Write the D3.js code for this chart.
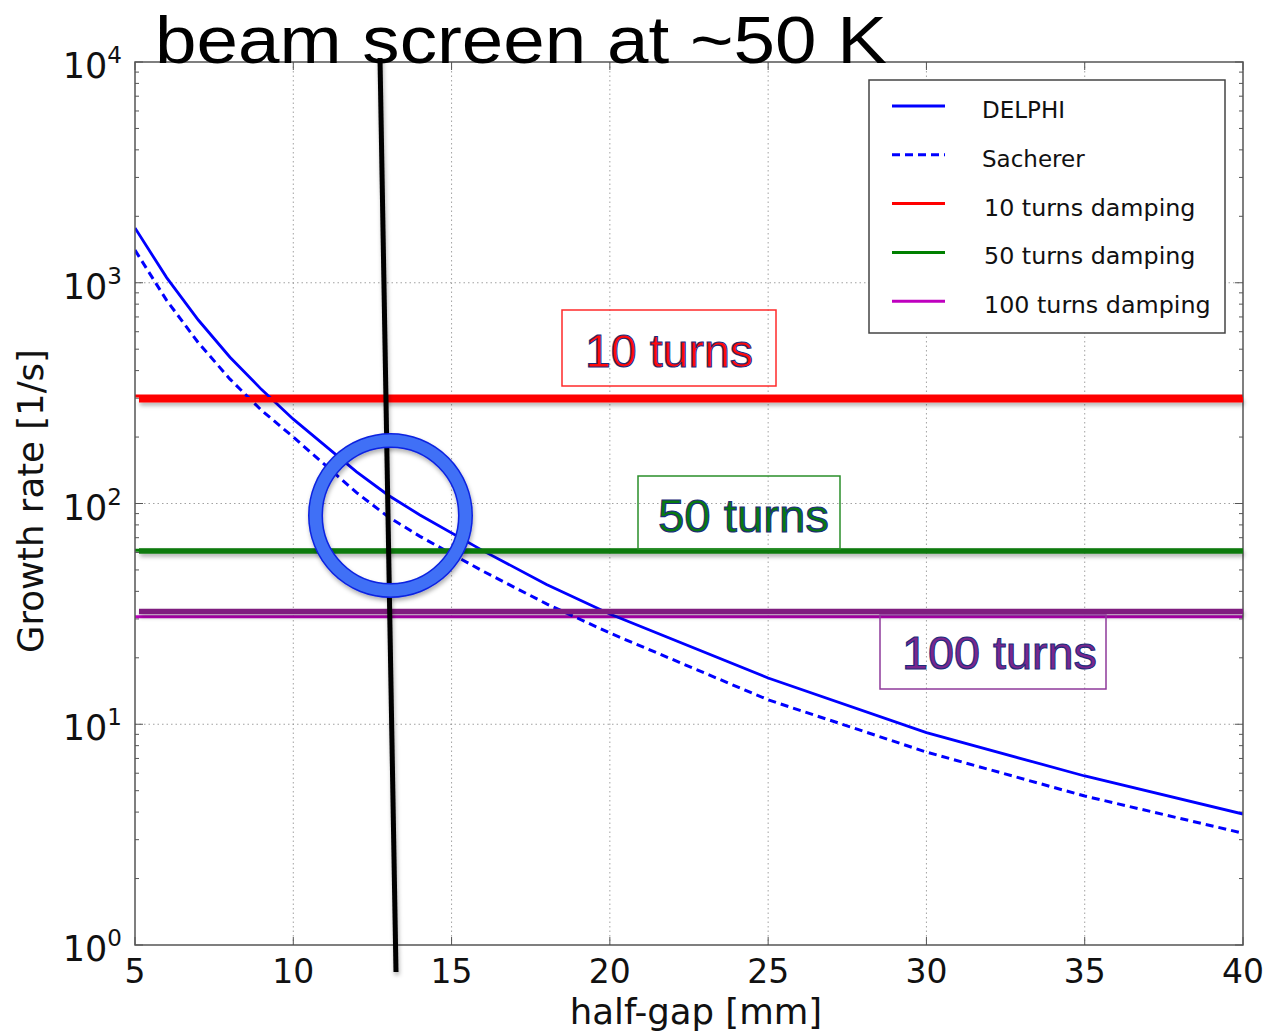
<!DOCTYPE html>
<html>
<head>
<meta charset="utf-8">
<script src="https://cdn.jsdelivr.net/npm/d3@7"></script>
<style>
  html, body { margin: 0; padding: 0; background: #fff; }
  svg { display: block; }
</style>
</head>
<body>
<svg id="chart" width="1264" height="1034"></svg>
<script>
// Half-gap of the beam screen [mm]
const halfGap = [5, 6, 7, 8, 9, 10, 12, 13, 14, 16, 18, 20, 25, 30, 35, 40];
// Transverse growth rates [1/s]
const delphiRate   = [1770, 1055, 678, 460, 328, 241, 139, 109, 88.7, 61, 43, 31.6, 16.2, 9.16, 5.83, 3.92];
const sachererRate = [1406, 832, 535, 366, 264, 200, 112, 87, 71, 49.3, 35.1, 25.9, 12.9, 7.48, 4.73, 3.21];

// Damping rates for n turns of the feedback [1/s]
const dampingTurns = [10, 50, 100];
const dampingRate  = [307, 61.4, 30.7];
// Highlight bars drawn over the damping levels
const highlightRate = [295, 61, 32.4];

const xTicks = [5, 10, 15, 20, 25, 30, 35, 40];
const yDecades = [0, 1, 2, 3, 4];

const legendLabels = ["DELPHI", "Sacherer", "10 turns damping", "50 turns damping", "100 turns damping"];

const svg = d3.select("#chart");
const M = { left: 135, right: 1243, top: 62, bottom: 945 };

const x = d3.scaleLinear().domain([5, 40]).range([M.left, M.right]);
const y = d3.scaleLog().domain([1, 1e4]).range([M.bottom, M.top]);

// Drop shadow used by the slide annotations
const defs = svg.append("defs");
const shadow = defs.append("filter").attr("id", "shadow")
  .attr("filterUnits", "userSpaceOnUse")
  .attr("x", 0).attr("y", 0).attr("width", 1264).attr("height", 1034);
shadow.append("feDropShadow").attr("dx", 1).attr("dy", 3).attr("stdDeviation", 2)
  .attr("flood-color", "#000").attr("flood-opacity", 0.3);

defs.append("clipPath").attr("id", "plotClip").append("rect")
  .attr("x", M.left).attr("y", M.top).attr("width", M.right - M.left).attr("height", M.bottom - M.top);

// Grid
const grid = svg.append("g");
grid.selectAll(".gx").data(xTicks.slice(1, -1)).join("line")
  .attr("x1", d => x(d)).attr("x2", d => x(d))
  .attr("y1", M.top).attr("y2", M.bottom)
  .attr("stroke", "#8a8a8a").attr("stroke-width", 0.8).attr("stroke-dasharray", "1.5,3");
grid.selectAll(".gy").data(yDecades.slice(1, -1)).join("line")
  .attr("y1", d => y(Math.pow(10, d))).attr("y2", d => y(Math.pow(10, d)))
  .attr("x1", M.left).attr("x2", M.right)
  .attr("stroke", "#8a8a8a").attr("stroke-width", 0.8).attr("stroke-dasharray", "1.5,3");

// Ticks (inside, on all four spines)
const ticks = svg.append("g").attr("stroke", "#555").attr("stroke-width", 1);
const minor = [];
for (let e = 0; e < 4; e++) for (let m = 2; m <= 9; m++) minor.push(m * Math.pow(10, e));
ticks.selectAll(".ymin").data(minor).join("g").each(function (v) {
  const g = d3.select(this), yy = y(v);
  g.append("line").attr("x1", M.left).attr("x2", M.left + 4).attr("y1", yy).attr("y2", yy);
  g.append("line").attr("x1", M.right).attr("x2", M.right - 4).attr("y1", yy).attr("y2", yy);
});
ticks.selectAll(".ymaj").data(yDecades).join("g").each(function (d) {
  const g = d3.select(this), yy = y(Math.pow(10, d));
  g.append("line").attr("x1", M.left).attr("x2", M.left + 8).attr("y1", yy).attr("y2", yy);
  g.append("line").attr("x1", M.right).attr("x2", M.right - 8).attr("y1", yy).attr("y2", yy);
});
ticks.selectAll(".xmaj").data(xTicks).join("g").each(function (d) {
  const g = d3.select(this), xx = x(d);
  g.append("line").attr("x1", xx).attr("x2", xx).attr("y1", M.bottom).attr("y2", M.bottom - 8);
  g.append("line").attr("x1", xx).attr("x2", xx).attr("y1", M.top).attr("y2", M.top + 8);
});

// Tick labels
const tickFont = "'DejaVu Sans', sans-serif";
svg.append("g").selectAll("text").data(xTicks).join("text")
  .attr("x", d => x(d)).attr("y", M.bottom + 38)
  .attr("text-anchor", "middle").attr("font-family", tickFont).attr("font-size", 33)
  .attr("fill", "#111").text(d => d);

const yl = svg.append("g").selectAll("text").data(yDecades).join("text")
  .attr("x", 122).attr("y", d => y(Math.pow(10, d)) + 16)
  .attr("text-anchor", "end").attr("font-family", tickFont).attr("fill", "#111");
yl.append("tspan").attr("font-size", 35).text("10");
yl.append("tspan").attr("font-size", 23).attr("dy", -15).text(d => d);

// Axis labels
svg.append("text").attr("x", 696).attr("y", 1024).attr("text-anchor", "middle")
  .attr("font-family", tickFont).attr("font-size", 35.5).attr("fill", "#111").text("half-gap [mm]");
svg.append("text").attr("transform", "translate(43,501) rotate(-90)").attr("text-anchor", "middle")
  .attr("font-family", tickFont).attr("font-size", 35.5).attr("fill", "#111").text("Growth rate [1/s]");

// Plot content
const plot = svg.append("g").attr("clip-path", "url(#plotClip)");
const dampColors = ["#ff0000", "#008000", "#bf00bf"];
plot.selectAll(".damp").data(dampingRate).join("line")
  .attr("x1", M.left).attr("x2", M.right)
  .attr("y1", d => y(d)).attr("y2", d => y(d))
  .attr("stroke", (d, i) => dampColors[i]).attr("stroke-width", 3);

const line = d3.line().x(d => x(d[0])).y(d => y(d[1]));
plot.append("path").datum(halfGap.map((g, i) => [g, delphiRate[i]]))
  .attr("d", line).attr("fill", "none").attr("stroke", "#0000ff").attr("stroke-width", 2.8);
plot.append("path").datum(halfGap.map((g, i) => [g, sachererRate[i]]))
  .attr("d", line).attr("fill", "none").attr("stroke", "#0000ff").attr("stroke-width", 3)
  .attr("stroke-dasharray", "8,5");

// Spines
svg.append("rect").attr("x", M.left).attr("y", M.top)
  .attr("width", M.right - M.left).attr("height", M.bottom - M.top)
  .attr("fill", "none").attr("stroke", "#555").attr("stroke-width", 1.5);

// Legend
const leg = svg.append("g");
leg.append("rect").attr("x", 869).attr("y", 80).attr("width", 356).attr("height", 253)
  .attr("fill", "#fff").attr("stroke", "#444").attr("stroke-width", 1.5);
const legColors = ["#0000ff", "#0000ff", "#ff0000", "#008000", "#bf00bf"];
legendLabels.forEach((lab, i) => {
  const yy = 106 + i * 48.8;
  leg.append("line").attr("x1", 892).attr("x2", 945).attr("y1", yy).attr("y2", yy)
    .attr("stroke", legColors[i]).attr("stroke-width", 3)
    .attr("stroke-dasharray", i === 1 ? "8,5" : null);
  leg.append("text").attr("x", i < 2 ? 982 : 984).attr("y", yy + 12)
    .attr("font-family", tickFont).attr("font-size", i < 2 ? 23 : 23.8).attr("fill", "#111").text(lab);
});

// Highlight bars over the damping levels
const hlColors = ["#ff0000", "#0a7a0a", "#7f1f7f"];
svg.append("g").selectAll("line").data(highlightRate).join("line")
  .attr("x1", M.left + 4).attr("x2", M.right)
  .attr("y1", d => y(d)).attr("y2", d => y(d))
  .attr("stroke", (d, i) => hlColors[i]).attr("stroke-width", 5.5)
  .attr("filter", "url(#shadow)");

// Labelled boxes
const boxes = [
  { text: "10 turns",  x: 562, y: 310, w: 214, h: 76, tx: 585, ty: 367, tw: 168, fill: "#ff0a0a", edge: "#ff2a2a" },
  { text: "50 turns",  x: 638, y: 476, w: 202, h: 73, tx: 658, ty: 532, tw: 171, fill: "#087a10", edge: "#2a8f2a" },
  { text: "100 turns", x: 880, y: 615, w: 226, h: 74, tx: 902, ty: 669, tw: 195, fill: "#7a268e", edge: "#8e3a9a" }
];
const bx = svg.append("g");
boxes.forEach(b => {
  bx.append("rect").attr("x", b.x).attr("y", b.y).attr("width", b.w).attr("height", b.h)
    .attr("fill", "none").attr("stroke", b.edge).attr("stroke-width", 1.5);
  bx.append("text").attr("x", b.tx).attr("y", b.ty)
    .attr("textLength", b.tw).attr("lengthAdjust", "spacingAndGlyphs")
    .attr("font-family", "'Liberation Sans', Arial, sans-serif").attr("font-size", 47)
    .attr("fill", b.fill).attr("stroke", "#1c2c7a").attr("stroke-width", 1.1)
    .text(b.text);
});

// Title
svg.append("text").attr("x", 155).attr("y", 63)
  .attr("font-family", "'Liberation Sans', Arial, sans-serif").attr("font-size", 67)
  .attr("textLength", 732).attr("lengthAdjust", "spacingAndGlyphs")
  .attr("fill", "#000").text("beam screen at ~50 K");

// Beam-screen half-gap marker
svg.append("line").attr("x1", 380).attr("y1", 58).attr("x2", 396).attr("y2", 972)
  .attr("stroke", "#000").attr("stroke-width", 5).attr("filter", "url(#shadow)");

// Operating-point ring
const ring = svg.append("g").attr("filter", "url(#shadow)");
ring.append("circle").attr("cx", 390.5).attr("cy", 515.5).attr("r", 75)
  .attr("fill", "none").attr("stroke", "#0b22e0").attr("stroke-width", 15);
ring.append("circle").attr("cx", 390.5).attr("cy", 515.5).attr("r", 75)
  .attr("fill", "none").attr("stroke", "#3f6ff6").attr("stroke-width", 12);
</script>
</body>
</html>
